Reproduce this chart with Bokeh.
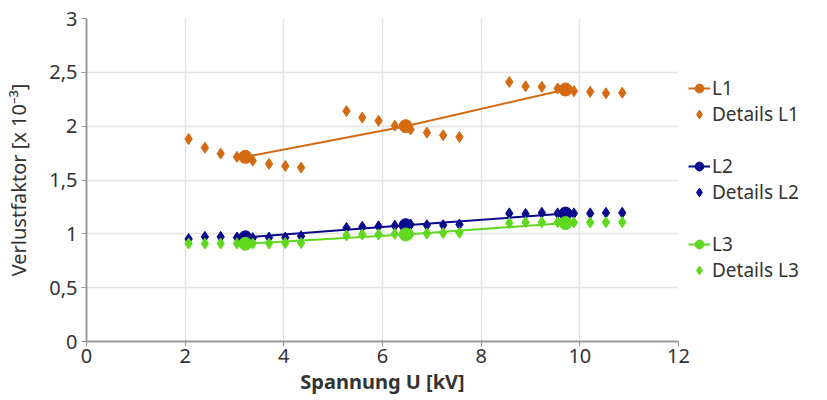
from bokeh.plotting import figure
from bokeh.models import (Range1d, FixedTicker, CustomJSTickFormatter, Legend, LegendItem,
                          ColumnDataSource)
from bokeh.embed import file_html
from bokeh.resources import INLINE

# ---- data ----
x_main = [3.22, 6.47, 9.71]
L1_main = [1.715, 2.00, 2.34]
L2_main = [0.968, 1.08, 1.188]
L3_main = [0.908, 0.994, 1.10]

x_details = [2.07, 2.40, 2.72, 3.05, 3.37, 3.70, 4.03, 4.35,
             5.27, 5.59, 5.92, 6.25, 6.57, 6.90, 7.23, 7.56,
             8.57, 8.90, 9.23, 9.55, 9.88, 10.21, 10.53, 10.86]
L1_details = [1.88, 1.80, 1.745, 1.715, 1.68, 1.65, 1.63, 1.615,
              2.14, 2.08, 2.05, 2.005, 1.97, 1.94, 1.915, 1.90,
              2.41, 2.37, 2.365, 2.35, 2.325, 2.32, 2.305, 2.31]
L2_details = [0.953, 0.972, 0.972, 0.965, 0.96, 0.965, 0.965, 0.978,
              1.055, 1.065, 1.07, 1.075, 1.086, 1.08, 1.08, 1.086,
              1.19, 1.185, 1.195, 1.19, 1.19, 1.19, 1.195, 1.195]
L3_details = [0.91, 0.91, 0.91, 0.91, 0.91, 0.91, 0.915, 0.915,
              0.984, 0.994, 0.994, 1.0, 1.0, 1.003, 1.008, 1.01,
              1.10, 1.108, 1.108, 1.108, 1.105, 1.105, 1.108, 1.108]

x_ticks = [0, 2, 4, 6, 8, 10, 12]
y_ticks = [0, 0.5, 1, 1.5, 2, 2.5, 3]

series = [
    ("L1", L1_main, L1_details, "#D46A12"),
    ("L2", L2_main, L2_details, "#0A0A8C"),
    ("L3", L3_main, L3_details, "#5FD81E"),
]

FONT = "Noto Sans"
TXT = "#333333"

p = figure(frame_width=592, frame_height=323, output_backend="svg", toolbar_location=None,
           x_range=Range1d(0, 12), y_range=Range1d(0, 3),
           min_border_left=86, min_border_top=18, min_border_bottom=0, min_border_right=0)
p.outline_line_color = None
p.background_fill_color = "white"

for ax in (p.xaxis[0], p.yaxis[0]):
    ax.axis_line_color = "#999999"
    ax.axis_line_width = 2
    ax.major_tick_line_color = "#999999"
    ax.major_tick_out = 5
    ax.major_tick_in = 0
    ax.minor_tick_line_color = None
    ax.major_label_text_font = FONT
    ax.major_label_text_font_size = "20px"
    ax.major_label_text_color = TXT
    ax.axis_label_text_font = FONT
    ax.axis_label_text_font_size = "20px"
    ax.axis_label_text_color = TXT

p.xaxis.ticker = FixedTicker(ticks=x_ticks)
p.yaxis.ticker = FixedTicker(ticks=y_ticks)
p.yaxis.formatter = CustomJSTickFormatter(code="return tick.toString().replace('.', ',');")
p.xaxis.axis_label = "Spannung U [kV]"
p.xaxis.axis_label_text_font_style = "bold"
p.xaxis.axis_label_standoff = 2
p.xaxis.major_label_standoff = 2
p.yaxis.axis_label = "Verlustfaktor [x 10\u207b\u00b3]"
p.yaxis.axis_label_text_font_style = "normal"
p.yaxis.axis_label_standoff = 14
p.yaxis.major_label_standoff = 4

p.xgrid.ticker = FixedTicker(ticks=x_ticks)
p.ygrid.ticker = FixedTicker(ticks=y_ticks)
p.grid.grid_line_color = "#e4e4e4"
p.grid.grid_line_width = 1.5

items = []
for i, (name, main, det, col) in enumerate(series):
    src_m = ColumnDataSource(dict(x=x_main, y=main))
    src_d = ColumnDataSource(dict(x=x_details, y=det))
    d = p.scatter("x", "y", source=src_d, marker="diamond", size=11, color=col)
    ln = p.line("x", "y", source=src_m, line_color=col, line_width=2)
    c = p.scatter("x", "y", source=src_m, marker="circle", size=13, color=col)
    items.append(LegendItem(label=name, renderers=[ln, c]))
    items.append(LegendItem(label="Details " + name, renderers=[d]))
    if i < len(series) - 1:
        blank = p.scatter(x=[0], y=[-1], marker="circle", size=1, fill_alpha=0, line_alpha=0)
        items.append(LegendItem(label=" ", renderers=[blank]))

legend = Legend(items=items, location=(10, 58), border_line_color=None,
                background_fill_alpha=0, label_text_font=FONT, label_text_font_size="19px",
                label_text_color=TXT, glyph_width=22, glyph_height=26, label_height=26,
                spacing=0, padding=0, margin=0, label_standoff=2)
p.add_layout(legend, "right")

open("out.html", "w").write(file_html(p, INLINE))
